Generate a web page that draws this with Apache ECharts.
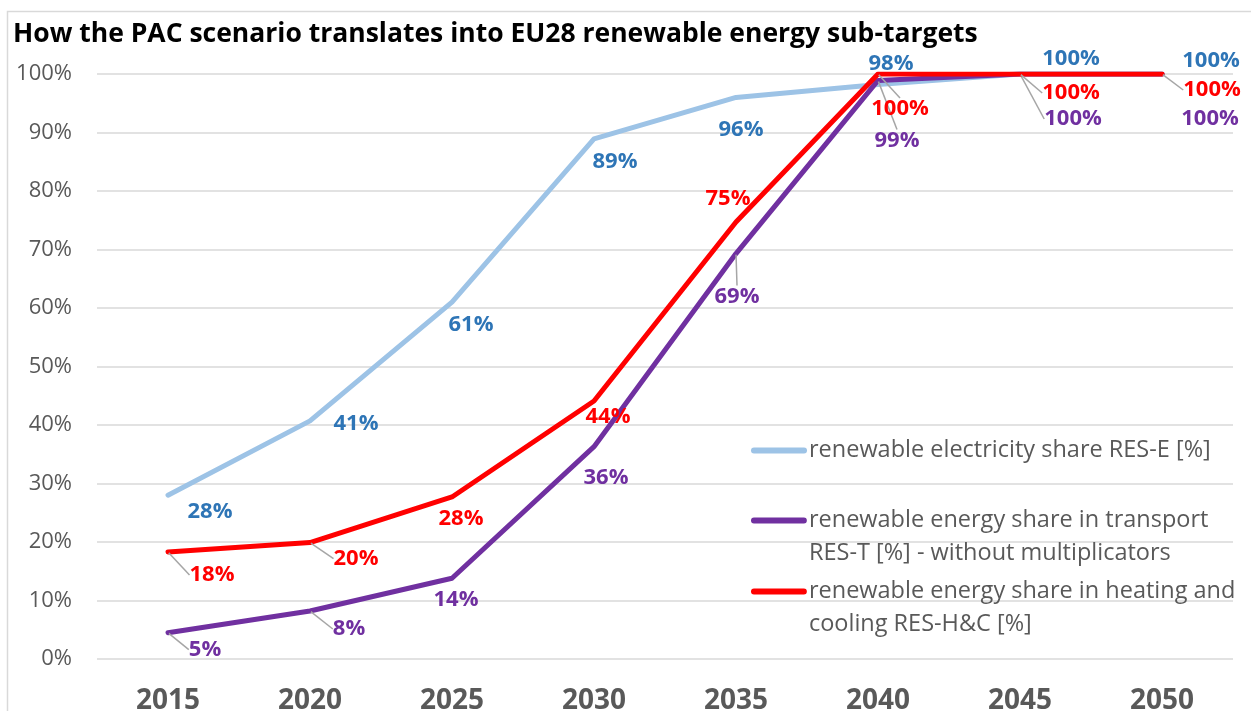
<!DOCTYPE html>
<html>
<head>
<meta charset="utf-8">
<title>PAC scenario - EU28 renewable energy sub-targets</title>
<script src="https://cdn.jsdelivr.net/npm/echarts@6/dist/echarts.min.js"></script>
<style>
  html, body { margin: 0; padding: 0; background: #fff; }
  #chart { width: 1251px; height: 711px; }
</style>
</head>
<body>
<div id="chart"></div>
<script>
var years = ['2015', '2020', '2025', '2030', '2035', '2040', '2045', '2050'];

// shares in %
var resE = [28.0, 40.7, 61.0, 88.9, 96.0, 98.2, 100, 100];
var resT = [4.5, 8.2, 13.8, 36.3, 69.3, 98.9, 100, 100];
var resHC = [18.3, 19.9, 27.7, 44.1, 74.7, 100, 100, 100];

var seriesNames = [
    'renewable electricity share RES-E [%]',
    'renewable energy share in transport RES-T [%] - without multiplicators',
    'renewable energy share in heating and cooling RES-H&C [%]'
];
var legendTexts = [
    'renewable electricity share RES-E [%]',
    'renewable energy share in transport\nRES-T [%] - without multiplicators',
    'renewable energy share in heating and\ncooling RES-H&C [%]'
];

var lineColors = ['#9DC3E6', '#7030A0', '#FF0000'];
var labelColors = ['#2E75B6', '#7030A0', '#FF0000'];

// where each data label sits relative to its point (px)
var labelShift = [
    [[42, 17], [46, 3], [19, 23], [21, 23], [5, 32], [13, -21], [51, -15], [49, -13]],
    [[37, 17], [39, 18], [4, 21], [12, 31], [1, 43], [19, 60], [53, 45], [48, 45]],
    [[44, 23], [46, 16], [9, 22], [14, 16], [-8, -23], [22, 35], [51, 19], [50, 16]]
];
// which labels get a leader line
var leaders = [
    [0, 0, 0, 0, 0, 0, 0, 0],
    [1, 1, 0, 0, 1, 1, 1, 0],
    [1, 1, 0, 0, 0, 1, 1, 1]
];

var font = '"Open Sans", "Noto Sans", sans-serif';

// legend bar; the tiny second subpath makes the icon box taller so the
// bar lines up with the first text line of a two-line entry
var barIcon = 'path://M3,0h50a3,3 0 0 1 0,6h-50a3,3 0 0 1 0,-6z';
var barIconTop = barIcon + 'M0,39h0.1v0.1h-0.1z';

function makeSeries(idx, values) {
    return {
        name: seriesNames[idx],
        type: 'line',
        data: values.map(function(v, i) {
            return { value: v, labelLine: { show: !!leaders[idx][i] } };
        }),
        symbol: 'circle',
        symbolSize: 2,
        showSymbol: true,
        itemStyle: { color: lineColors[idx] },
        lineStyle: { color: lineColors[idx], width: 5, cap: 'round', join: 'round' },
        label: {
            show: true,
            position: 'inside',
            formatter: function(p) { return Math.round(p.value) + '%'; },
            color: labelColors[idx],
            fontFamily: font,
            fontWeight: 'bold',
            fontSize: 22
        },
        labelLine: {
            lineStyle: { color: '#A6A6A6', width: 1.5 }
        },
        labelLayout: function(p) {
            var s = labelShift[idx][p.dataIndex];
            return { dx: s[0], dy: s[1], hideOverlap: false, moveOverlap: false };
        },
        emphasis: { disabled: true },
        z: 2 + idx
    };
}

function makeLegend(idx, top, twoLines) {
    return {
        show: true,
        data: [seriesNames[idx]],
        left: 751,
        top: top,
        orient: 'vertical',
        padding: 0,
        icon: twoLines ? barIconTop : barIcon,
        itemWidth: 56,
        itemHeight: twoLines ? 39 : 6,
        itemGap: 0,
        selectedMode: false,
        formatter: function() { return legendTexts[idx]; },
        textStyle: {
            color: '#595959',
            fontFamily: font,
            fontSize: 23.5,
            lineHeight: 33,
            padding: [0, 0, 0, -3]
        }
    };
}

var chart = echarts.init(document.getElementById('chart'));

var option = {
    backgroundColor: '#fff',
    animation: false,
    title: {
        text: 'How the PAC scenario translates into EU28 renewable energy sub-targets',
        left: 13,
        top: 17,
        padding: 0,
        textStyle: {
            color: '#000',
            fontFamily: font,
            fontWeight: 'bold',
            fontSize: 26.5,
            lineHeight: 34
        }
    },
    graphic: [{
        type: 'rect',
        left: 5,
        top: 9,
        shape: { width: 1300, height: 800 },
        style: { fill: 'none', stroke: '#D9D9D9', lineWidth: 1.5 },
        silent: true
    }],
    legend: [
        makeLegend(0, 434, false),
        makeLegend(1, 504, true),
        makeLegend(2, 575, true)
    ],
    grid: {
        left: 97,
        right: 18,
        top: 74,
        bottom: 52,
        containLabel: false,
        outerBoundsMode: 'none'
    },
    xAxis: {
        type: 'category',
        data: years,
        boundaryGap: true,
        axisLine: { show: false },
        axisTick: { show: false },
        axisLabel: {
            color: '#595959',
            fontFamily: font,
            fontWeight: 'bold',
            fontSize: 28,
            margin: 28
        }
    },
    yAxis: {
        type: 'value',
        min: 0,
        max: 100,
        interval: 10,
        axisLine: { show: false },
        axisTick: { show: false },
        axisLabel: {
            color: '#595959',
            fontFamily: font,
            fontSize: 22,
            margin: 25,
            formatter: '{value}%'
        },
        splitLine: { lineStyle: { color: '#D9D9D9', width: 1.5 } }
    },
    series: [
        makeSeries(0, resE),
        makeSeries(1, resT),
        makeSeries(2, resHC)
    ]
};

chart.setOption(option);
</script>
</body>
</html>
